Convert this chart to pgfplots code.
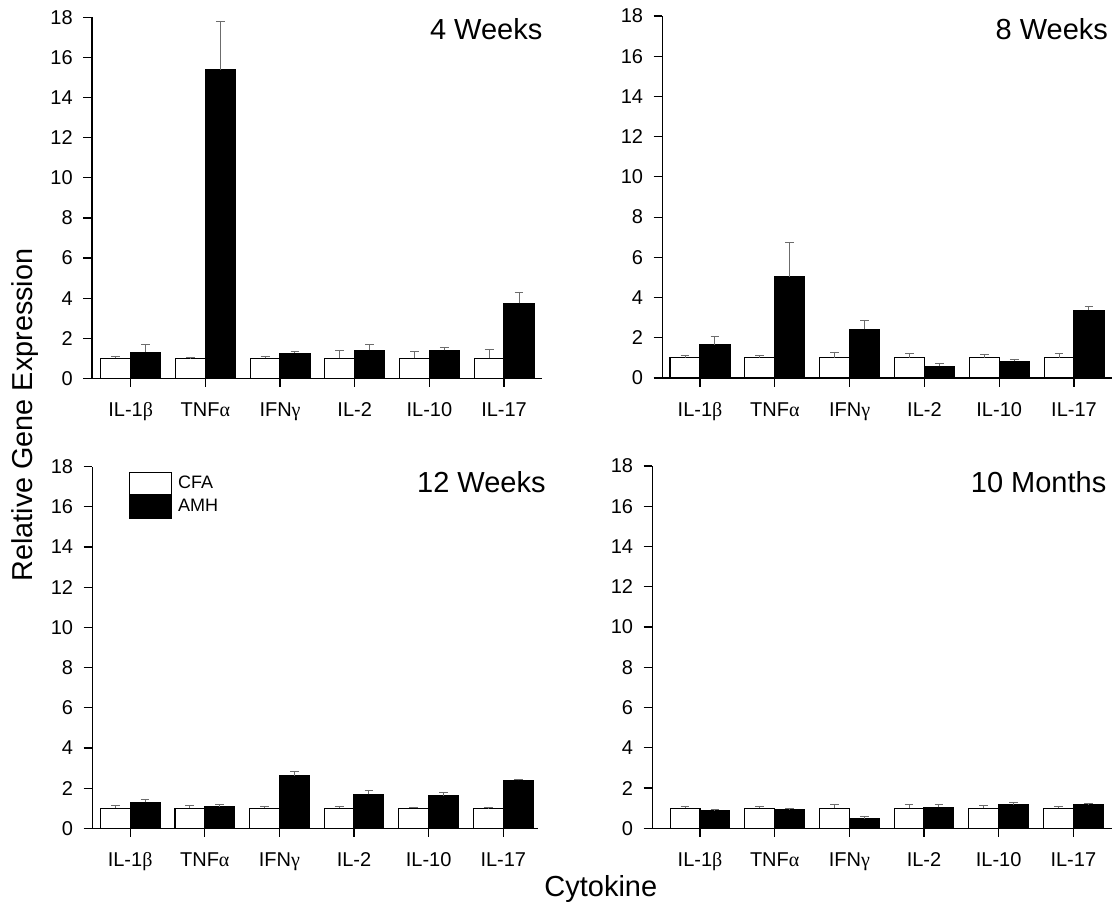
\documentclass[border=0pt]{standalone}
\usepackage{pgfplots}
\pgfplotsset{compat=1.18}
\usepackage{pgfplotstable}
\usepackage{fontspec}
\setmainfont{Liberation Sans}
\newfontfamily\grk{Liberation Serif}

% mean and SEM of relative expression, CFA and AMH groups
\pgfplotstableread{
x cfa cfae amh amhe
0 1.00 0.10 1.31 0.36
1 1.00 0.02 15.37 2.40
2 1.00 0.10 1.26 0.09
3 1.00 0.41 1.41 0.28
4 1.00 0.33 1.40 0.16
5 1.00 0.45 3.74 0.53
}\weekfour
\pgfplotstableread{
x cfa cfae amh amhe
0 1.00 0.13 1.65 0.42
1 1.00 0.13 5.02 1.74
2 1.00 0.28 2.42 0.46
3 1.00 0.22 0.58 0.12
4 1.00 0.17 0.83 0.10
5 1.00 0.22 3.37 0.20
}\weekeight
\pgfplotstableread{
x cfa cfae amh amhe
0 1.00 0.14 1.29 0.12
1 1.00 0.14 1.06 0.13
2 1.00 0.08 2.62 0.22
3 1.00 0.08 1.69 0.20
4 1.00 0.04 1.61 0.16
5 1.00 0.03 2.39 0.05
}\weektwelve
\pgfplotstableread{
x cfa cfae amh amhe
0 1.00 0.08 0.86 0.07
1 1.00 0.08 0.91 0.05
2 1.00 0.18 0.48 0.12
3 1.00 0.19 1.04 0.15
4 1.00 0.14 1.16 0.13
5 1.00 0.08 1.18 0.06
}\monthten

\tikzset{ptitle/.style={anchor=base east, inner sep=0pt, font=\fontsize{14.5}{17}\selectfont}}

\pgfplotsset{
  panel/.style={
    scale only axis,
    ybar, bar width=0.4,
    ymin=0, ymax=18, ytick={0,2,...,18},
    xtick={0,...,5},
    xticklabels={IL-1{\grk β}, TNF{\grk α}, IFN{\grk γ}, IL-2, IL-10, IL-17},
    axis lines*=left, tick pos=left, tick align=outside,
    major tick length=4.3pt,
    axis line style={line width=0.6pt},
    tick style={line width=0.6pt, black},
    /pgf/number format/assume math mode=true,
    yticklabel style={font=\fontsize{10}{12}\selectfont, xshift=-1.8pt},
    xticklabel style={font=\fontsize{10}{12}\selectfont, yshift=-3.9pt,
      text height=0.74em, text depth=0.22em},
    clip=false,
  },
  errs/.style={error bars/.cd, y dir=plus, y explicit,
    error bar style={line width=0.5pt, gray!85!black},
    error mark=-, error mark options={rotate=90, mark size=2.2pt, line width=0.5pt, gray!85!black}},
  boxlegend/.style={legend image code/.code={%
    \draw[##1, line width=0.6pt] (0pt,-5.6pt) rectangle (21pt,5.6pt);}},
  cfa/.style={fill=white, draw=black, line width=0.6pt, bar shift=-0.2, boxlegend, errs},
  amh/.style={fill=black, draw=black, line width=0.6pt, bar shift=0.2, boxlegend, errs},
}

\begin{document}
\begin{tikzpicture}
\path[use as bounding box] (0pt,0pt) rectangle (558.5pt,452.5pt);

% 4 weeks
\begin{axis}[panel, at={(46pt,263.3pt)}, anchor=south west,
  width=225pt, height=180.55pt, xmin=-0.518, xmax=5.508]
\addplot[cfa] table[x=x, y=cfa, y error=cfae] {\weekfour};
\addplot[amh] table[x=x, y=amh, y error=amhe] {\weekfour};
\node[ptitle, xshift=0.35pt, yshift=-11.35pt] at (rel axis cs:1,1) {4 Weeks};
\end{axis}

% 8 weeks
\begin{axis}[panel, at={(331.15pt,263.5pt)}, anchor=south west,
  width=224.7pt, height=181pt, xmin=-0.504, xmax=5.504]
\addplot[cfa] table[x=x, y=cfa, y error=cfae] {\weekeight};
\addplot[amh] table[x=x, y=amh, y error=amhe] {\weekeight};
\node[ptitle, xshift=-1.7pt, yshift=-12pt] at (rel axis cs:1,1) {8 Weeks};
\end{axis}

% 12 weeks, with the legend
\begin{axis}[panel, at={(46.15pt,38.35pt)}, anchor=south west,
  width=222.85pt, height=180.8pt, xmin=-0.507, xmax=5.465,
  legend style={draw=none, fill=none, at={(rel axis cs:0.0823,0.986)}, anchor=north west,
    inner sep=0pt, outer sep=0pt, row sep=0pt, column sep=3pt,
    font=\fontsize{9}{11}\selectfont, nodes={inner sep=0pt, anchor=west}},
  legend cell align=left]
\addplot[cfa] table[x=x, y=cfa, y error=cfae] {\weektwelve};
\addplot[amh] table[x=x, y=amh, y error=amhe] {\weektwelve};
\legend{CFA, AMH}
\node[ptitle, xshift=4pt, yshift=-13pt] at (rel axis cs:1,1) {12 Weeks};
\end{axis}

% 10 months
\begin{axis}[panel, at={(326.15pt,38.35pt)}, anchor=south west,
  width=229.7pt, height=181.15pt, xmin=-0.639, xmax=5.514]
\addplot[cfa] table[x=x, y=cfa, y error=cfae] {\monthten};
\addplot[amh] table[x=x, y=amh, y error=amhe] {\monthten};
\node[ptitle, xshift=-2.5pt, yshift=-13pt] at (rel axis cs:1,1) {10 Months};
\end{axis}

\node[rotate=90, anchor=base, font=\fontsize{14.4}{16}\selectfont] at (16.5pt,245pt) {Relative Gene Expression};
\node[anchor=base, font=\fontsize{14.5}{16}\selectfont] at (300.4pt,4.15pt) {Cytokine};
\end{tikzpicture}
\end{document}
